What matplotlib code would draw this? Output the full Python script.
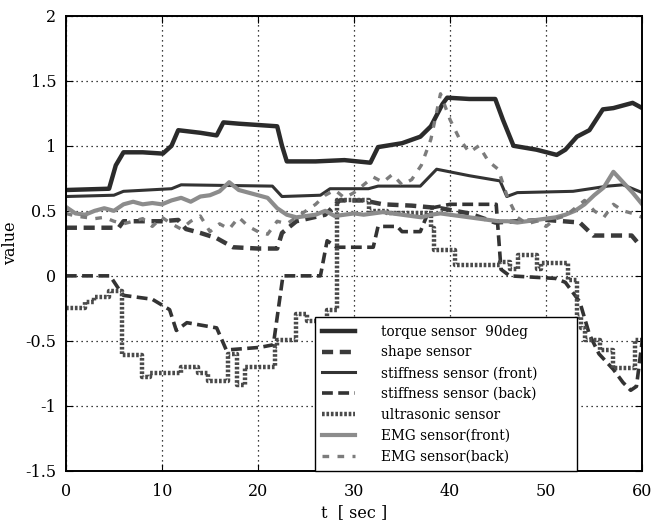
import matplotlib
matplotlib.use("Agg")
import matplotlib.pyplot as plt
import numpy as np

plt.rcParams['font.family'] = ['DejaVu Serif']
plt.rcParams['axes.unicode_minus'] = False

# top curve (torque sensor 90deg)
t_torque = [0, 4.5, 5.2, 6, 8, 10.1, 11, 11.7, 14, 15.7, 16.4, 18, 20, 22, 22.5, 23, 26, 29,
            31.7, 32.5, 35, 36.9, 38, 39.2, 39.7, 42, 44.7, 45.5, 46.6, 49, 51.1, 52, 53.2,
            54.5, 55.9, 57, 59, 60]
v_torque = [0.66, 0.67, 0.85, 0.95, 0.95, 0.94, 1.0, 1.12, 1.10, 1.08, 1.18, 1.17, 1.16, 1.15,
            1.0, 0.88, 0.88, 0.89, 0.87, 0.99, 1.02, 1.07, 1.15, 1.32, 1.37, 1.36, 1.36, 1.2,
            1.0, 0.97, 0.93, 0.97, 1.07, 1.12, 1.28, 1.29, 1.33, 1.29]

# shape sensor (thick dashed)
t_shape = [0, 5.5, 6, 10, 11.7, 12.5, 14, 15.7, 17.4, 20, 22, 22.5, 24, 27, 28.5, 31, 33, 36,
           39, 42, 44.7, 47, 50, 53.5, 54.9, 58.9, 59.7, 60]
v_shape = [0.37, 0.37, 0.42, 0.42, 0.43, 0.36, 0.33, 0.29, 0.22, 0.21, 0.21, 0.33, 0.42, 0.47,
           0.58, 0.58, 0.55, 0.54, 0.52, 0.48, 0.41, 0.42, 0.43, 0.41, 0.31, 0.31, 0.24, 0.25]

# stiffness sensor (front)
t_sfront = [0, 5, 6, 11, 12, 21.5, 22.5, 26.5, 27.5, 31.5, 32.5, 36.9, 38.6, 42, 45.2, 45.9,
            47, 52.8, 56.4, 58, 60]
v_sfront = [0.61, 0.62, 0.65, 0.67, 0.70, 0.69, 0.61, 0.62, 0.67, 0.67, 0.69, 0.69, 0.82, 0.77,
            0.73, 0.61, 0.64, 0.65, 0.69, 0.70, 0.64]

# stiffness sensor (back) -- step line at the bottom
t_sback = [0, 4.6, 5.5, 6, 9, 10.8, 11.5, 12.6, 15.7, 16.7, 20.2, 21.6, 22.6, 26.5, 27.2, 28.2,
           32, 32.5, 34.5, 35, 36.9, 37.9, 40, 44.8, 45.3, 46.2, 51, 52, 53.5, 54.5, 55.5, 57,
           58, 58.8, 59.4, 60]
v_sback = [0.0, 0.0, -0.1, -0.15, -0.18, -0.26, -0.42, -0.36, -0.40, -0.57, -0.55, -0.53, 0.0,
           0.0, 0.27, 0.22, 0.22, 0.38, 0.38, 0.34, 0.34, 0.52, 0.55, 0.55, 0.05, 0.0, -0.02,
           -0.05, -0.2, -0.45, -0.6, -0.72, -0.82, -0.88, -0.85, -0.5]

# ultrasonic sensor (stepwise)
t_us = [0, 2, 2.9, 4.5, 5.8, 7.9, 8.8, 12, 13.8, 14.8, 16.9, 17.8, 18.6, 21.8, 22, 24, 25.1,
        27.2, 28.2, 31.6, 33.4, 38, 38.3, 40.5, 45.2, 46.2, 47.1, 49, 49.5, 52.3, 53.2, 53.6,
        54, 55.6, 57, 59.3, 60]
v_us = [-0.25, -0.2, -0.16, -0.12, -0.61, -0.78, -0.75, -0.70, -0.75, -0.81, -0.60, -0.84,
        -0.70, -0.55, -0.49, -0.29, -0.35, -0.26, 0.58, 0.50, 0.48, 0.37, 0.20, 0.08, 0.11,
        0.05, 0.16, 0.05, 0.10, -0.03, -0.32, -0.40, -0.49, -0.57, -0.71, -0.49, -0.49]

# EMG sensors, one reading per second
t_emg = np.arange(0, 61)
v_emg_front = [0.53, 0.48, 0.47, 0.50, 0.52, 0.50, 0.55, 0.57, 0.55, 0.56, 0.55, 0.58, 0.60,
               0.57, 0.61, 0.62, 0.65, 0.72, 0.66, 0.64, 0.62, 0.60, 0.52, 0.47, 0.45, 0.46,
               0.47, 0.50, 0.46, 0.47, 0.48, 0.47, 0.48, 0.49, 0.48, 0.47, 0.46, 0.45, 0.47,
               0.48, 0.47, 0.46, 0.45, 0.44, 0.43, 0.42, 0.42, 0.41, 0.42, 0.43, 0.44, 0.45,
               0.47, 0.50, 0.55, 0.62, 0.68, 0.80, 0.72, 0.64, 0.55]
v_emg_back = [0.48, 0.46, 0.45, 0.44, 0.45, 0.42, 0.40, 0.42, 0.44, 0.38, 0.45, 0.40, 0.36,
              0.42, 0.46, 0.34, 0.40, 0.36, 0.45, 0.38, 0.34, 0.32, 0.42, 0.40, 0.45, 0.50,
              0.55, 0.62, 0.66, 0.60, 0.64, 0.70, 0.76, 0.72, 0.78, 0.70, 0.74, 0.85, 1.05,
              1.40, 1.20, 1.05, 0.95, 1.00, 0.88, 0.82, 0.60, 0.45, 0.40, 0.42, 0.38, 0.44,
              0.46, 0.52, 0.58, 0.50, 0.45, 0.55, 0.50, 0.48, 0.45]

labels = ["torque sensor  90deg", "shape sensor", "stiffness sensor (front)",
          "stiffness sensor (back)", "ultrasonic sensor", "EMG sensor(front)", "EMG sensor(back)"]

fig = plt.figure(figsize=(6.52, 5.25), dpi=100)
ax = fig.add_axes([0.101, 0.103, 0.884, 0.867])

ax.plot(t_torque, v_torque, color="#2b2b2b", lw=3.2, label=labels[0])
ax.plot(t_shape, v_shape, color="#3a3a3a", lw=3.2, ls=(0, (2.5, 1.5)), label=labels[1])
ax.plot(t_sfront, v_sfront, color="#333333", lw=2.2, label=labels[2])
ax.plot(t_sback, v_sback, color="#333333", lw=2.6, ls=(0, (3, 1.5)), label=labels[3])
ax.plot(t_us, v_us, color="#4a4a4a", lw=3.2, ls=(0, (0.6, 0.4)), drawstyle="steps-post",
        label=labels[4])
ax.plot(t_emg, v_emg_front, color="#8c8c8c", lw=3.0, label=labels[5])
ax.plot(t_emg, v_emg_back, color="#7c7c7c", lw=2.4, ls=(0, (2, 2.5)), label=labels[6])

ax.set_xlim(0, 60)
ax.set_ylim(-1.5, 2)
ax.set_xticks([0, 10, 20, 30, 40, 50, 60])
ax.set_yticks([-1.5, -1, -0.5, 0, 0.5, 1, 1.5, 2])
ax.set_yticklabels(["-1.5", "-1", "-0.5", "0", "0.5", "1", "1.5", "2"])
ax.grid(True, color="black", ls=(0, (1, 3)), lw=0.9)
ax.tick_params(direction="in", top=True, right=True, labelsize=11.5, length=5)
ax.tick_params(axis="x", pad=9)
ax.tick_params(axis="y", pad=7)
for s in ax.spines.values():
    s.set_linewidth(1.4)

ax.set_xlabel("t  [ sec ]", fontsize=11.5, labelpad=3)
ax.set_ylabel("value", fontsize=11.5, labelpad=4)

leg = ax.legend(loc="lower left", bbox_to_anchor=(0.432, 0.0, 0.455, 0.325), mode="expand",
                fontsize=9.8, frameon=True, fancybox=False, edgecolor="black", framealpha=1,
                borderaxespad=0, handlelength=2.4, labelspacing=0.5, borderpad=0.55,
                handletextpad=1.9)
leg.get_frame().set_linewidth(1.0)

fig.savefig("out.png", dpi=100)
